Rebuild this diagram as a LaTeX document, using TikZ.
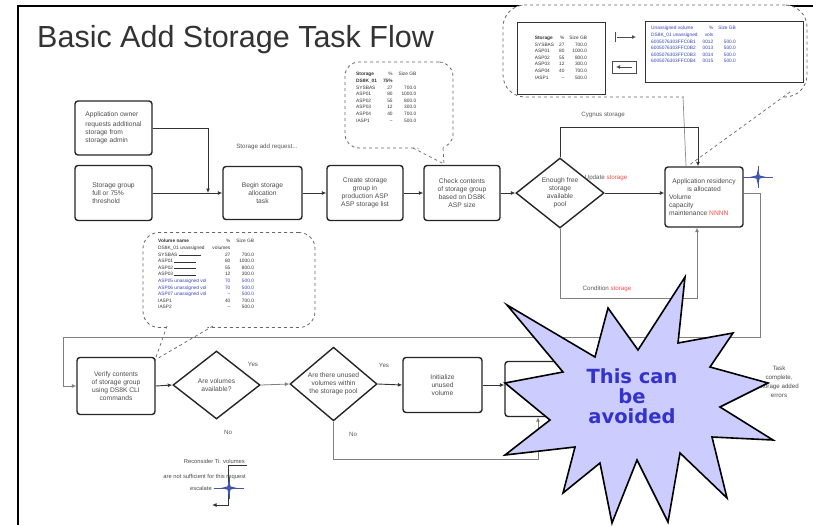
\documentclass[tikz,border=0pt]{standalone}
\usepackage{fontspec}
\setmainfont{Liberation Sans}
\newfontfamily\starfont{DejaVu Sans}
\usetikzlibrary{shapes.geometric,arrows.meta}
\definecolor{starfill}{HTML}{CCCCFF}
\definecolor{startext}{HTML}{3333CC}
\definecolor{rowblue}{HTML}{3344BB}
\definecolor{crossblue}{HTML}{4455AA}
\begin{document}
\begin{tikzpicture}[x=1pt,y=-1pt,
  every node/.style={font=\fontsize{6.7}{8}\selectfont, text=black!70},
  tbox/.style={draw=black!85, line width=1.4pt, rounded corners=3pt, fill=white, align=center, inner sep=1pt},
  dbox/.style={diamond, draw=black!85, line width=1.4pt, fill=white, align=center, inner sep=0pt},
  conn/.style={draw=black!80, line width=0.9pt, -{Latex[length=4.5pt,width=4pt]}},
  lconn/.style={draw=black!50, line width=0.8pt, -{Latex[length=4.5pt,width=4pt]}},
  bubble/.style={draw=black!60, dashed, line width=0.8pt, rounded corners=14pt, fill=white},
  tail/.style={draw=black!60, dashed, line width=0.7pt},
  tbl/.style={font=\fontsize{4.8}{6.6}\selectfont, text=black!80, align=left, inner sep=0pt},
  lbl/.style={font=\fontsize{6.2}{7.5}\selectfont, text=black!65},
  xstar/.pic={
    \draw[crossblue, line width=0.7pt] (-15,0) -- (15,0) (0,-11) -- (0,11);
    \fill[crossblue] (-8,0) -- (-1.6,-1.6) -- (0,-8) -- (1.6,-1.6) -- (8,0) -- (1.6,1.6) -- (0,8) -- (-1.6,1.6) -- cycle;
  },
]
\useasboundingbox (0,0) rectangle (813,525);
\fill[white] (0,0) rectangle (813,525);

% slide frame and title
\draw[line width=2.5pt] (18,525) -- (18,6) -- (813,6);
\node[anchor=base west, inner sep=0pt, font=\fontsize{30.5}{33}\selectfont, text=black!80] (title) at (37,47) {Basic Add Storage Task Flow};

% ---- callout bubbles ----
\node[bubble, rounded corners=22pt, minimum width=304pt, minimum height=92pt] (topbub) at (655,51) {};
\node[bubble, minimum width=108pt, minimum height=86pt] (midbub) at (399,105) {};
\node[bubble, rounded corners=16pt, minimum width=172pt, minimum height=95pt] (lowbub) at (229,280) {};

% table inside the upper bubble
\node[draw=black!80, line width=1pt, minimum width=88pt, minimum height=72pt] (tblL) at (561,58) {};
\node[tbl] at (tblL) {\setlength{\tabcolsep}{2.5pt}\begin{tabular}{@{}lrr@{}}
\textbf{Storage} & \% & Size GB\\
SYSBAS & 27 & 700.0\\
ASP01 & 80 & 1000.0\\
ASP02 & 55 & 800.0\\
ASP03 & 12 & 300.0\\
ASP04 & 40 & 700.0\\
IASP1 & -- & 500.0
\end{tabular}};
\draw[black!70, line width=0.8pt] (615,32) -- (615,42);
\draw[black!70, line width=0.8pt, -{Latex[length=4pt,width=4pt]}] (617,37) -- (636,37);
\draw[black!70, line width=0.8pt] (612,61) rectangle (636,73);
\draw[black!70, line width=0.8pt, -{Latex[length=4pt,width=4pt]}] (632,67) -- (616,67);
\node[draw=black!80, line width=1pt, minimum width=158pt, minimum height=61pt] (tblR) at (724,52) {};
\node[tbl, text=rowblue, anchor=north west] at (651,25) {\setlength{\tabcolsep}{2.5pt}\begin{tabular}{@{}lrr@{}}
Unassigned volume & \% & Size GB\\
DS8K\_01 unassigned & vols &\\
6005076303FFC0B1 & 0012 & 500.0\\
6005076303FFC0B2 & 0013 & 500.0\\
6005076303FFC0B3 & 0014 & 500.0\\
6005076303FFC0B4 & 0015 & 500.0
\end{tabular}};

% table inside the middle bubble
\node[tbl, anchor=north west] at (356,71) {\setlength{\tabcolsep}{3pt}\begin{tabular}{@{}lrr@{}}
\textbf{Storage} & \% & Size GB\\
\textbf{DS8K\_01} & \textbf{75\%} &\\
SYSBAS & 27 & 700.0\\
ASP01 & 80 & 1000.0\\
ASP02 & 55 & 800.0\\
ASP03 & 12 & 300.0\\
ASP04 & 40 & 700.0\\
IASP1 & -- & 500.0
\end{tabular}};

% table inside the lower bubble
\node[tbl, anchor=north west] at (158,238) {\setlength{\tabcolsep}{3pt}\begin{tabular}{@{}lrr@{}}
\textbf{Volume name} & \% & Size GB\\
DS8K\_01 unassigned & volumes &\\
SYSBAS \rule[0.6pt]{22pt}{0.4pt} & 27 & 700.0\\
ASP01 \rule[0.6pt]{22pt}{0.4pt} & 80 & 1000.0\\
ASP02 \rule[0.6pt]{22pt}{0.4pt} & 55 & 800.0\\
ASP03 \rule[0.6pt]{22pt}{0.4pt} & 12 & 300.0\\
\textcolor{rowblue}{ASP05 unassigned vol} & \textcolor{rowblue}{70} & \textcolor{rowblue}{500.0}\\
\textcolor{rowblue}{ASP06 unassigned vol} & \textcolor{rowblue}{70} & \textcolor{rowblue}{500.0}\\
\textcolor{rowblue}{ASP07 unassigned vol} & \textcolor{rowblue}{--} & \textcolor{rowblue}{500.0}\\
IASP1 & 40 & 700.0\\
IASP2 & -- & 500.0
\end{tabular}};

% ---- process boxes and decisions ----
\node[tbox, align=left, minimum width=77pt, minimum height=54pt] (A) at (113.5,128) {Application owner\\[2pt]requests additional\\storage from\\storage admin};
\node[tbox, align=left, minimum width=77pt, minimum height=55pt] (B) at (113.5,193) {Storage group\\full or 75\%\\threshold};
\node[tbox, minimum width=79pt, minimum height=53pt] (C) at (262.5,193) {Begin storage\\allocation\\task};
\node[tbox, minimum width=76pt, minimum height=55pt] (D) at (365,193) {Create storage\\group in\\production ASP\\ASP storage list};
\node[tbox, minimum width=76pt, minimum height=55pt] (E) at (462,193) {Check contents\\of storage group\\based on DS8K\\ASP size};
\node[dbox, minimum width=88pt, minimum height=70pt] (F) at (560,193) {Enough free\\storage\\available\\pool};
\node[tbox, align=left, minimum width=78pt, minimum height=60pt] (G) at (704,197) {\makebox[70pt]{Application residency}\\\makebox[70pt]{is allocated}\\Volume\\capacity\\maintenance \textcolor{red!70}{NNNN}};

\node[tbox, minimum width=78pt, minimum height=57pt] (H) at (116,386) {Verify contents\\of storage group\\using DS8K CLI\\commands};
\node[dbox, minimum width=87pt, minimum height=68pt] (I) at (216.5,385) {Are volumes\\available?};
\node[dbox, minimum width=87pt, minimum height=66pt] (J) at (333.5,384) {Are there unused\\volumes within\\the storage pool};
\node[tbox, minimum width=79pt, minimum height=55pt] (K) at (442.5,385) {Initialize\\unused\\volume};
\node[tbox, minimum width=80pt, minimum height=55pt] (L) at (545,389) {Register\\volume in\\storage group};
\node[align=center, font=\fontsize{6.2}{9}\selectfont] (done) at (779,382) {Task\\complete,\\storage added\\errors};
\node[font=\fontsize{5.8}{7}\selectfont, anchor=base east, inner sep=0pt] (rec1) at (245,463) {Reconsider Ti: volumes};
\node[font=\fontsize{5.8}{7}\selectfont, anchor=base east, inner sep=0pt] (rec2) at (246,478) {are not sufficient for this request};
\node[font=\fontsize{5.8}{7}\selectfont, anchor=base east, inner sep=0pt] (rec3) at (212,490) {escalate};

% edge labels
\node[lbl] (l0) at (267,147) {Storage add request...};
\node[lbl] (l1) at (603,115) {Cygnus storage};
\node[lbl] (l2) at (606,178) {Update \textcolor{red!70}{storage}};
\node[lbl] (l3) at (607,289) {Condition \textcolor{red!70}{storage}};
\node[lbl] (l4) at (253,364) {Yes};
\node[lbl] (l5) at (228,432) {No};
\node[lbl] (l6) at (384,365) {Yes};
\node[lbl] (l7) at (353,434) {No};

% ---- callout tails ----
\fill[white] (414,145) -- (443,145) -- (443,164) -- cycle;
\draw[tail] (413,148) -- (444,164) (443,148) -- (444,164);
\fill[white] (168,324) -- (213,324) -- (156,359) -- cycle;
\draw[tail] (167,326) -- (155,360) (213,326) -- (155,360);
\fill[white] (684,95) -- (789,91) -- (688,165) -- cycle;
\draw[black!45, line width=0.7pt] (683,97) -- (686,166);
\draw[tail] (790,92) -- (688,166);

% ---- connectors ----
\coordinate (j1) at (208,193);
\draw[conn] (A.east) -| (j1);
\draw[conn] (B.east) -- (C.west);
\draw[conn] (C.east) -- (D.west);
\draw[conn] (D.east) -- (E.west);
\draw[conn] (E.east) -- (F.west);
\draw[conn] (F.east) -- (F.east -| G.west);
\coordinate (cyg) at (698,127);
\draw[conn] (F.north) |- (cyg) -- (cyg |- G.north);
\coordinate (cond) at (697,298);
\draw[lconn] (F.south) |- (cond) -- (cond |- G.south);
\coordinate (r1) at (760,193);
\coordinate (r2) at (63,337);
\draw[lconn] (G.east |- r1) -- (r1) |- (r2) |- (H.west);
\draw[conn] (H.east) -- (I.west);
\draw[lconn] (I.east) -- (J.west);
\draw[conn] (J.east) -- (K.west);
\coordinate (jb) at (538,459);
\draw[lconn] (J.south) |- (jb) -- (jb |- L.south);
\draw[conn] (K.east) -- (K.east -| L.west);
\draw[conn] (L.east) -- (done.west);
\coordinate (u1) at (247,465);
\coordinate (u0) at (228,465);
\coordinate (u2) at (212,505);
\draw[conn] (u1) -- (u0) |- (u2);

% end markers
\pic at (758,177) {xstar};
\pic at (229,488) {xstar};

% ---- starburst note ----
\filldraw[fill=starfill, draw=black, line width=1.6pt, line join=miter, miter limit=20]
  (685,277) -- (678,343) -- (733,333) -- (710,367) -- (768,383) -- (720,407)
  -- (773,440) -- (712,437) -- (727,498) -- (680,453) -- (668,522) -- (637,460)
  -- (612,523) -- (600,463) -- (563,493) -- (575,447) -- (505,455) -- (550,420)
  -- (505,383) -- (563,372) -- (507,305) -- (595,357) -- (608,308) -- (638,350) -- cycle;
\node[align=center, font=\starfont\bfseries\fontsize{19.5}{20}\selectfont, text=startext, inner sep=0pt] (note) at (632,396) {This can\\be\\avoided};
\end{tikzpicture}
\end{document}
